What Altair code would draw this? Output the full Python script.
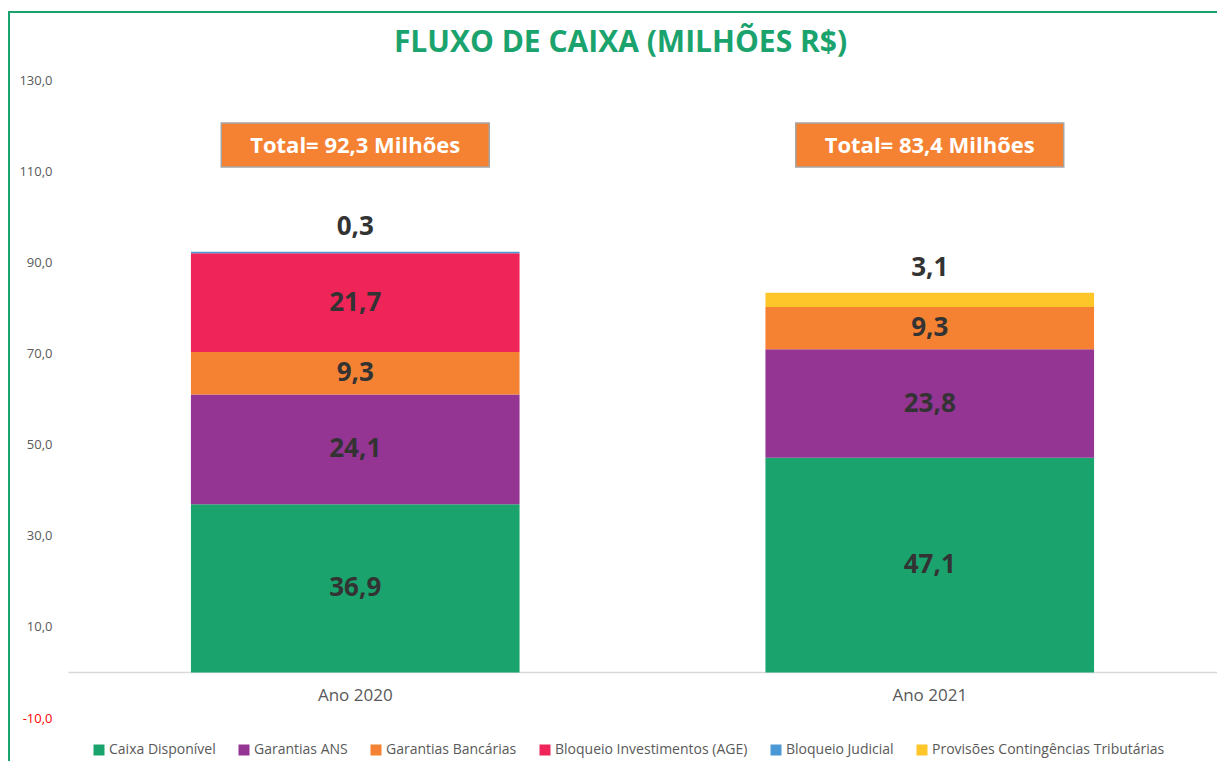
import altair as alt
import pandas as pd

years = ["Ano 2020", "Ano 2021"]
series = ["Caixa Disponível", "Garantias ANS", "Garantias Bancárias",
          "Bloqueio Investimentos (AGE)", "Bloqueio Judicial",
          "Provisões Contingências Tributárias"]
colors = ["#1BA36E", "#943594", "#F58233", "#EF2459", "#4A98D6", "#FFC629"]
values_2020 = [36.9, 24.1, 9.3, 21.7, 0.3, 0.0]
values_2021 = [47.1, 23.8, 9.3, 0.0, 0.0, 3.1]
totals = [92.3, 83.4]
y_ticks = [-10, 10, 30, 50, 70, 90, 110, 130]

rows = []
for year, vals in zip(years, [values_2020, values_2021]):
    for si, (s, v) in enumerate(zip(series, vals)):
        rows.append({"ano": year, "serie": s, "ordem": si, "valor": v})
df = pd.DataFrame(rows)
tot_df = pd.DataFrame({"ano": years, "total": totals})

FONT = "Open Sans"
GREEN = "#1BA36E"
FMT = "replace(replace(format({f}, '.1f'), '.', ','), '\u2212', '-')"

x_main = alt.X(
    "ano:N", sort=years,
    scale=alt.Scale(paddingInner=0.428, paddingOuter=0.214),
    axis=alt.Axis(title=None, offset=-46, domainColor="#D9D9D9", domainWidth=1.5,
                  ticks=False, labelFontSize=17, labelColor="#595959",
                  labelPadding=15, labelFont=FONT, labelAngle=0),
)
x_plain = alt.X("ano:N", sort=years)
y_scale = alt.Scale(domain=[-10, 130], nice=False, zero=False)

bars = alt.Chart(df).mark_bar().encode(
    x=x_main,
    y=alt.Y("valor:Q", stack="zero", scale=y_scale,
            axis=alt.Axis(title=None, values=y_ticks, domain=False, ticks=False,
                          grid=False, labelFont=FONT, labelFontSize=13,
                          labelPadding=16,
                          labelExpr=FMT.format(f="datum.value"),
                          labelColor={"condition": {"test": "datum.value < 0", "value": "#FF0000"},
                                      "value": "#595959"})),
    color=alt.Color("serie:N", sort=series,
                    scale=alt.Scale(domain=series, range=colors),
                    legend=alt.Legend(title=None, orient="none", legendX=24, legendY=663,
                                      direction="horizontal", columns=6,
                                      symbolType="square", symbolSize=121,
                                      symbolStrokeWidth=0, labelFontSize=14,
                                      labelFont=FONT, labelColor="#595959",
                                      labelLimit=0,
                                      columnPadding=21, labelOffset=3, padding=0)),
    order=alt.Order("ordem:Q", sort="ascending"),
)

base_text = alt.Chart(df).transform_stack(
    stack="valor", groupby=["ano"], as_=["y0", "y1"],
    sort=[alt.SortField("ordem", "ascending")],
).transform_calculate(
    mid="(datum.y0 + datum.y1) / 2",
    label=FMT.format(f="datum.valor"),
)

inside = base_text.transform_filter("datum.valor >= 5").mark_text(
    font=FONT, fontSize=26, fontWeight="bold", color="#333333", baseline="middle"
).encode(x=x_plain, y=alt.Y("mid:Q"), text="label:N")

above = base_text.transform_filter("datum.valor > 0 && datum.valor < 5").mark_text(
    font=FONT, fontSize=26, fontWeight="bold", color="#333333", baseline="middle", dy=-25
).encode(x=x_plain, y=alt.Y("y1:Q"), text="label:N")

boxes = alt.Chart(tot_df).mark_bar(
    width=268, fill="#F58233", stroke="#A6A6A6", strokeWidth=1.5
).encode(x=x_plain, y=alt.value(43), y2=alt.value(87))

box_text = alt.Chart(tot_df).transform_calculate(
    label="'Total= ' + " + FMT.format(f="datum.total") + " + ' Milhões'"
).mark_text(
    font=FONT, fontSize=22, fontWeight="bold", color="white", baseline="middle"
).encode(x=x_plain, y=alt.value(66), text="label:N")

frame = alt.Chart(pd.DataFrame({"k": [0]})).mark_rect(
    fill=None, stroke=GREEN, strokeWidth=2
).encode(x=alt.value(-59), x2=alt.value(1300), y=alt.value(-68), y2=alt.value(900))

chart = alt.layer(frame, bars, inside, above, boxes, box_text).properties(
    width=1149, height=638,
    autosize=alt.AutoSizeParams(type="none"),
    padding={"left": 60, "top": 72, "right": 0, "bottom": 43},
    title=alt.TitleParams("FLUXO DE CAIXA (MILHÕES R$)", font=FONT, fontSize=30,
                          fontWeight="bold", color=GREEN, anchor="middle",
                          dx=-22, offset=-47),
    background="white",
).configure_view(stroke=None)

chart.save("out.html", embed_options={"renderer": "svg", "actions": False})
